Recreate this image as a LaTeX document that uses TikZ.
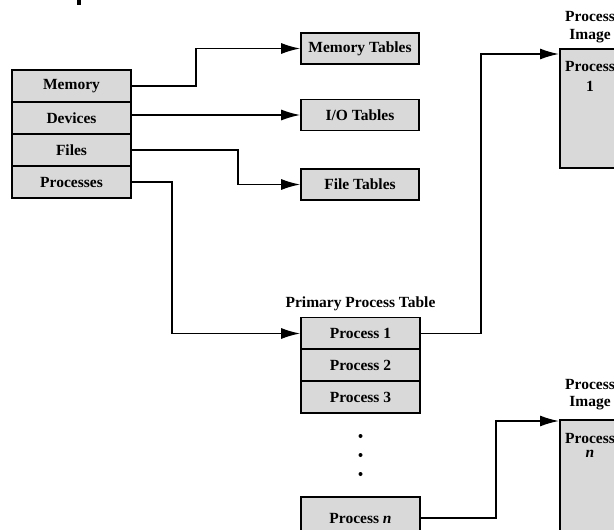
\documentclass[tikz,border=0pt]{standalone}
\usepackage{fontspec}
\setmainfont{Liberation Serif}
\usetikzlibrary{arrows.meta}
\definecolor{boxgray}{HTML}{D9D9D9}
\tikzset{
  cell/.style={draw=black, line width=1.6pt, fill=boxgray, minimum width=119pt, minimum height=32pt, inner sep=0pt, font=\fontsize{15.5}{17}\selectfont\bfseries},
  tab/.style={cell, minimum width=118pt, minimum height=31pt},
  lbl/.style={inner sep=0pt, font=\fontsize{15.5}{17}\selectfont\bfseries},
  dotmark/.style={circle, fill=black, inner sep=0pt, minimum size=4pt},
  arr/.style={line width=1.6pt, -{Latex[length=19pt,width=11pt]}},
  img/.style={draw=black, line width=1.6pt, fill=boxgray}
}
\begin{document}
\begin{tikzpicture}[x=1pt,y=-1pt]
\useasboundingbox (0,0) rectangle (614,530);
\clip (0,0) rectangle (614,530);
\fill (77,0) rectangle (81,5);
% left table
\node[cell] (mem) at (71.5,86) {Memory};
\node[cell] (dev) at (71.5,118) {Devices};
\node[cell] (fil) at (71.5,150) {Files};
\node[cell] (pro) at (71.5,182) {Processes};
% tables
\node[tab] (memt) at (360,48.5) {Memory Tables};
\node[tab] (iot) at (360,115) {I/O Tables};
\node[tab] (filt) at (360,184.5) {File Tables};
% primary process table
\node[lbl] (ppt) at (360.5,304) {Primary Process Table};
\node[cell] (p1) at (360.5,333.5) {Process 1};
\node[cell] (p2) at (360.5,365) {Process 2};
\node[cell] (p3) at (360.5,397) {Process 3};
\node[dotmark] (d1) at (360.5,436) {};
\node[dotmark] (d2) at (360.5,455) {};
\node[dotmark] (d3) at (360.5,474) {};
\node[cell, minimum height=42pt] (pn) at (360.5,518) {Process \textit{n}};
% process images
\node[img, minimum width=68pt, minimum height=119pt, inner sep=0pt, anchor=north west] (im1) at (559,48) {};
\node[lbl] (im1a) at (590,17) {Process};
\node[lbl] (im1b) at (590,36) {Image};
\node[lbl] (im1c) at (590,67) {Process};
\node[lbl] (im1d) at (590,86) {1};
\node[img, minimum width=68pt, minimum height=140pt, inner sep=0pt, anchor=north west] (imn) at (559,419) {};
\node[lbl] (imna) at (590,384) {Process};
\node[lbl] (imnb) at (590,403) {Image};
\node[lbl] (imnc) at (590,438) {Process};
\node[lbl] (imnd) at (590,454) {\textit{n}};
% connectors
\draw[arr] (mem.east) -- ++(64,0) |- (memt.west);
\draw[arr] (iot.west -| dev.east) -- (iot.west);
\draw[arr] (fil.east) -- ++(106,0) |- (filt.west);
\draw[arr] (pro.east) -- ++(40,0) |- (p1.west);
\draw[arr] (p1.east) -- (481,333.5) |- ([yshift=-6pt]im1.north west);
\draw[arr] (pn.east) -- (496,518) |- ([yshift=-2pt]imn.north west);
\end{tikzpicture}
\end{document}
